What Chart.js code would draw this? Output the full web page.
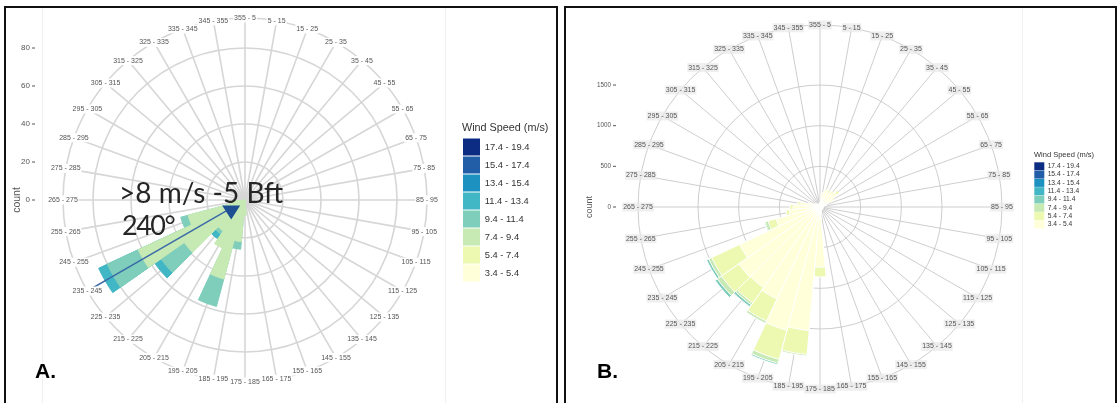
<!DOCTYPE html>
<html>
<head>
<meta charset="utf-8">
<script src="https://cdn.jsdelivr.net/npm/chart.js@4.4.0/dist/chart.umd.min.js"></script>
<style>
  html, body { margin: 0; padding: 0; background: #fff; }
  body { width: 1117px; height: 403px; position: relative; overflow: hidden; font-family: "Liberation Sans", Arial, sans-serif; }
  .panel { position: absolute; top: 6px; height: 400px; border: 2px solid #111; border-bottom: none; box-sizing: border-box; }
  #panelA { left: 4px; width: 554px; }
  #panelB { left: 564px; width: 553px; }
  .faint { position: absolute; top: 8px; width: 1px; height: 395px; background: #f0f0f0; }
  canvas { position: absolute; }
  #roseA { left: 6px; top: 8px; }
  #roseB { left: 566px; top: 8px; }
  .note { position: absolute; font-family: Lato, "Open Sans", sans-serif; color: #262626; font-size: 28px; line-height: 28px; white-space: nowrap; }
  .tag { position: absolute; font-family: "Liberation Sans", Arial, sans-serif; font-weight: bold; color: #000; font-size: 21px; line-height: 21px; }
</style>
</head>
<body>
<div class="panel" id="panelA"></div>
<div class="panel" id="panelB"></div>
<div class="faint" style="left:42px"></div>
<div class="faint" style="left:445px"></div>
<div class="faint" style="left:1022px"></div>
<canvas id="roseA" width="550" height="395"></canvas>
<canvas id="roseB" width="548" height="395"></canvas>
<div class="note" style="left:119px; top:178px;">&gt;8 m/s -5 Bft</div>
<div class="note" style="left:122px; top:211px; font-size:27px; letter-spacing:-1.5px;">240°</div>
<div class="tag" style="left:35px; top:360px;">A.</div>
<div class="tag" style="left:597px; top:360px;">B.</div>

<script>
console.log("connected");

// DIRECTION SECTORS AND SPEED CLASSES
var directions = ['355 - 5', '5 - 15', '15 - 25', '25 - 35', '35 - 45', '45 - 55', '55 - 65', '65 - 75', '75 - 85',
  '85 - 95', '95 - 105', '105 - 115', '115 - 125', '125 - 135', '135 - 145', '145 - 155', '155 - 165', '165 - 175',
  '175 - 185', '185 - 195', '195 - 205', '205 - 215', '215 - 225', '225 - 235', '235 - 245', '245 - 255', '255 - 265',
  '265 - 275', '275 - 285', '285 - 295', '295 - 305', '305 - 315', '315 - 325', '325 - 335', '335 - 345', '345 - 355'];
var speedBins = ['3.4 - 5.4', '5.4 - 7.4', '7.4 - 9.4', '9.4 - 11.4', '11.4 - 13.4', '13.4 - 15.4', '15.4 - 17.4', '17.4 - 19.4'];
var speedColors = ['#ffffd9', '#edf8b1', '#c7e9b4', '#7fcdbb', '#41b6c4', '#1d91c0', '#225ea8', '#0c2c84'];

// PANEL A - counts above 8 m/s (one array per speed class, 36 sectors)
var a34 = [0,0,0,0,0,0, 0,0,0,0,0,0, 0,0,0,0,0,0, 0,0,0,0,0,0, 0,0,0,0,0,0, 0,0,0,0,0,0];
var a54 = [0,0,0,0,0,0, 0,0,0,0,0,0, 0,0,0,0,0,0, 0,0,0,0,0,0, 0,0,0,0,0,0, 0,0,0,0,0,0];
var a74 = [0,0,0,0,0,0, 0,0,0,0,0,0, 0,0,0,0,0,0, 8,22,43,28,20,39, 62,31,8,0,0,0, 0,0,0,0,0,0];
var a94 = [0,0,0,0,0,0, 0,0,0,0,0,0, 0,0,0,0,0,0, 0,4,15,0,2,15, 18,4,0,0,0,0, 0,0,0,0,0,0];
var a114 = [0,0,0,0,0,0, 0,0,0,0,0,0, 0,0,0,0,0,0, 0,0,0,0,3,4, 5,0,0,0,0,0, 0,0,0,0,0,0];
var a134 = [0,0,0,0,0,0, 0,0,0,0,0,0, 0,0,0,0,0,0, 0,0,0,0,0,0, 0,0,0,0,0,0, 0,0,0,0,0,0];
var a154 = [0,0,0,0,0,0, 0,0,0,0,0,0, 0,0,0,0,0,0, 0,0,0,0,0,0, 0,0,0,0,0,0, 0,0,0,0,0,0];
var a174 = [0,0,0,0,0,0, 0,0,0,0,0,0, 0,0,0,0,0,0, 0,0,0,0,0,0, 0,0,0,0,0,0, 0,0,0,0,0,0];
var countTicksA = [0, 20, 40, 60, 80];
var ringMaxA = 95.8;
var markA = { sector: '235 - 245', from: 9, to: 97 };

// PANEL B - all counts
var b34 = [60,180,210,200,220,260, 180,90,50,40,40,40, 40,40,40,40,50,100, 740,1525,1570,1250,1210,1220, 1090,560,380,330,250,150, 80,60,50,40,40,50];
var b54 = [0,0,20,30,20,30, 20,0,0,0,0,0, 0,0,0,0,0,0, 120,295,370,300,230,260, 380,100,40,40,30,0, 0,0,0,0,0,0];
var b74 = [0,0,0,0,0,0, 0,0,0,0,0,0, 0,0,0,0,0,0, 0,20,50,30,30,60, 40,40,0,0,0,0, 0,0,0,0,0,0];
var b94 = [0,0,0,0,0,0, 0,0,0,0,0,0, 0,0,0,0,0,0, 0,0,20,0,30,35, 30,10,0,0,0,0, 0,0,0,0,0,0];
var b114 = [0,0,0,0,0,0, 0,0,0,0,0,0, 0,0,0,0,0,0, 0,0,0,0,0,0, 0,0,0,0,0,0, 0,0,0,0,0,0];
var b134 = [0,0,0,0,0,0, 0,0,0,0,0,0, 0,0,0,0,0,0, 0,0,0,0,0,0, 0,0,0,0,0,0, 0,0,0,0,0,0];
var b154 = [0,0,0,0,0,0, 0,0,0,0,0,0, 0,0,0,0,0,0, 0,0,0,0,0,0, 0,0,0,0,0,0, 0,0,0,0,0,0];
var b174 = [0,0,0,0,0,0, 0,0,0,0,0,0, 0,0,0,0,0,0, 0,0,0,0,0,0, 0,0,0,0,0,0, 0,0,0,0,0,0];
var countTicksB = [0, 500, 1000, 1500];
var ringMaxB = 2238;

Chart.defaults.font.family = '"Liberation Sans", Arial, sans-serif';

// GRID SPOKES, RING LABELS, COUNT AXIS AND ARROW
var roseDecor = {
  id: 'roseDecor',
  beforeDatasetsDraw: function(chart, args, o) {
    var s = chart.scales.r, ctx = chart.ctx;
    var half = Math.PI / directions.length;
    ctx.save();
    ctx.strokeStyle = o.lineColor;
    ctx.lineWidth = o.lineWidth;
    directions.forEach(function(d, i) {
      var p = s.getPointPosition(i, s.drawingArea, half);
      ctx.beginPath();
      ctx.moveTo(s.xCenter, s.yCenter);
      ctx.lineTo(p.x, p.y);
      ctx.stroke();
    });
    ctx.restore();
  },
  afterDatasetsDraw: function(chart, args, o) {
    var s = chart.scales.r, ctx = chart.ctx;
    var half = Math.PI / directions.length;
    ctx.save();

    if (o.mark) {
      var k = directions.indexOf(o.mark.sector);
      var p0 = s.getPointPosition(k, s.getDistanceFromCenterForValue(o.mark.from), half);
      var p1 = s.getPointPosition(k, s.getDistanceFromCenterForValue(o.mark.to), half);
      ctx.strokeStyle = '#3a6aa8';
      ctx.lineWidth = 1.5;
      ctx.beginPath();
      ctx.moveTo(p0.x, p0.y);
      ctx.lineTo(p1.x, p1.y);
      ctx.stroke();
      ctx.fillStyle = '#1f4f93';
      ctx.beginPath();
      ctx.moveTo(p0.x - 8, p0.y - 3);
      ctx.lineTo(p0.x + 10, p0.y - 3);
      ctx.lineTo(p0.x + 1, p0.y + 11);
      ctx.closePath();
      ctx.fill();
    }

    ctx.font = o.labelSize + 'px "Liberation Sans", Arial, sans-serif';
    ctx.textAlign = 'center';
    ctx.textBaseline = 'middle';
    directions.forEach(function(d, i) {
      var p = s.getPointPosition(i, s.drawingArea, half);
      var w = ctx.measureText(d).width;
      ctx.fillStyle = o.labelBack;
      ctx.fillRect(p.x - w / 2 - 1, p.y - o.labelSize / 2 - 1, w + 2, o.labelSize + 2);
      ctx.fillStyle = o.labelColor;
      ctx.fillText(d, p.x, p.y);
    });

    ctx.font = o.tickSize + 'px "Liberation Sans", Arial, sans-serif';
    ctx.textAlign = 'right';
    ctx.fillStyle = o.labelColor;
    ctx.strokeStyle = '#555';
    ctx.lineWidth = 1;
    o.ticks.forEach(function(v) {
      var y = s.yCenter - s.getDistanceFromCenterForValue(v);
      ctx.fillText(String(v), o.tickX, y);
      ctx.beginPath();
      ctx.moveTo(o.tickX + 2, y);
      ctx.lineTo(o.tickX + 5, y);
      ctx.stroke();
    });

    ctx.translate(o.titleX, s.yCenter);
    ctx.rotate(-Math.PI / 2);
    ctx.textAlign = 'center';
    ctx.font = o.titleSize + 'px "Liberation Sans", Arial, sans-serif';
    ctx.fillText('count', 0, 0);
    ctx.restore();
  }
};

// PUT THE LEGEND WHERE THE ORIGINAL HAS IT
var legendSpot = {
  id: 'legendSpot',
  afterLayout: function(chart, args, o) {
    var lg = chart.legend;
    if (!lg) return;
    var h = lg.bottom - lg.top;
    lg.left = o.x;
    lg.right = o.x + 140;
    lg.top = o.y;
    lg.bottom = o.y + h;
  }
};

function makeRose(id, classes, cfg) {
  var run = directions.map(function() { return 0; });
  var sets = classes.map(function(vals, k) {
    run = run.map(function(r, i) { return r + vals[i]; });
    return {
      label: speedBins[k],
      data: run.map(function(r, i) { return vals[i] > 0 ? r : 0; }),
      backgroundColor: speedColors[k],
      borderColor: cfg.edge || speedColors[k],
      borderWidth: cfg.edgeWidth
    };
  });

  return new Chart(document.getElementById(id).getContext('2d'), {
    type: 'polarArea',
    data: { labels: directions, datasets: sets },
    plugins: [roseDecor, legendSpot],
    options: {
      responsive: false,
      animation: false,
      layout: { padding: cfg.padding },
      scales: {
        r: {
          min: 0,
          max: cfg.ringMax,
          startAngle: -5,
          ticks: { display: false },
          afterBuildTicks: function(scale) {
            scale.ticks = cfg.ticks.concat([cfg.ringMax]).map(function(v) { return { value: v }; });
          },
          grid: { color: cfg.gridColor, lineWidth: cfg.gridWidth },
          angleLines: { display: false },
          pointLabels: { display: false }
        }
      },
      plugins: {
        tooltip: { enabled: false },
        legend: {
          position: 'right',
          align: 'start',
          maxWidth: cfg.legendWidth,
          title: {
            display: true,
            text: 'Wind Speed (m/s)',
            position: 'start',
            color: '#333',
            font: { size: cfg.legendTitleSize },
            padding: { top: 0, bottom: 2 }
          },
          labels: {
            boxWidth: cfg.box[0],
            boxHeight: cfg.box[1],
            padding: cfg.box[2],
            color: '#444',
            font: { size: cfg.legendSize },
            generateLabels: function(chart) {
              return chart.data.datasets.map(function(ds, i) {
                return { text: ds.label, fillStyle: ds.backgroundColor, strokeStyle: ds.backgroundColor, lineWidth: 0, hidden: false, datasetIndex: i };
              }).reverse();
            }
          }
        },
        legendSpot: cfg.legendAt,
        roseDecor: {
          lineColor: cfg.gridColor, lineWidth: cfg.gridWidth,
          labelSize: 7, labelColor: '#555', labelBack: cfg.labelBack,
          ticks: cfg.ticks, tickX: cfg.tickX, tickSize: cfg.tickSize,
          titleX: cfg.titleX, titleSize: cfg.titleSize,
          mark: cfg.mark
        }
      }
    }
  });
}

// WIND ROSE A
var chartA = makeRose('roseA', [a34, a54, a74, a94, a114, a134, a154, a174], {
  padding: { left: 22, right: 34, top: 10, bottom: 21 },
  legendWidth: 60,
  legendAt: { x: 456, y: 114.6 },
  legendTitleSize: 10.8, legendSize: 9.4, box: [17, 17, 1],
  ringMax: ringMaxA, ticks: countTicksA,
  gridColor: '#d6d6d6', gridWidth: 1.6,
  edgeWidth: 1,
  labelBack: '#ffffff',
  tickX: 24, tickSize: 8, titleX: 11, titleSize: 10.5,
  mark: markA
});

// WIND ROSE B
var chartB = makeRose('roseB', [b34, b54, b74, b94, b114, b134, b154, b174], {
  padding: { left: 39, right: 34, top: 17, bottom: 14 },
  legendWidth: 45,
  legendAt: { x: 468, y: 143 },
  legendTitleSize: 7.5, legendSize: 6.7, box: [10, 8, 0.3],
  ringMax: ringMaxB, ticks: countTicksB,
  gridColor: '#c2c2c2', gridWidth: 0.8,
  edge: '#ffffff', edgeWidth: 1,
  labelBack: 'rgba(232,232,232,0.7)',
  tickX: 45, tickSize: 6.3, titleX: 24, titleSize: 9
});
</script>
</body>
</html>
